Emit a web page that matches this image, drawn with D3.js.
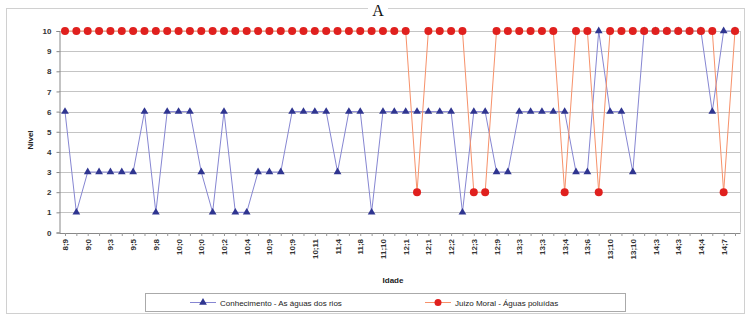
<!DOCTYPE html>
<html><head><meta charset="utf-8">
<script src="https://cdn.jsdelivr.net/npm/d3@7/dist/d3.min.js"></script>
<style>
html,body{margin:0;padding:0;background:#fff;}
svg{display:block;font-family:"Liberation Sans",Arial,sans-serif;}
</style></head>
<body><svg id="c" width="747" height="315"></svg>
<script>
// ---- data ----
const tickLabels = ["8;9","9;0","9;3","9;5","9;8","10;0","10;0","10;2","10;4","10;9","10;9","10;11","11;4","11;8","11;10","12;1","12;1","12;2","12;3","12;9","13;3","13;3","13;4","13;6","13;10","13;10","14;3","14;3","14;4","14;7"];
const conhecimento = [6,1,3,3,3,3,3,6,1,6,6,6,3,1,6,1,1,3,3,3,6,6,6,6,3,6,6,1,6,6,6,6,6,6,6,1,6,6,3,3,6,6,6,6,6,3,3,10,6,6,3,10,10,10,10,10,10,6,10,10];
const juizoMoral = [10,10,10,10,10,10,10,10,10,10,10,10,10,10,10,10,10,10,10,10,10,10,10,10,10,10,10,10,10,10,10,2,10,10,10,10,2,2,10,10,10,10,10,10,2,10,10,2,10,10,10,10,10,10,10,10,10,10,2,10];
const seriesNames = ["Conhecimento - As águas dos rios","Juizo Moral - Águas poluídas"];
const yTicks = [0,1,2,3,4,5,6,7,8,9,10];

const svg = d3.select("#c");
const idx = d3.range(conhecimento.length);
const x = d3.scalePoint().domain(idx).range([65, 735]);
const y = d3.scaleLinear().domain([0,10]).range([232.5, 31]);

// outer border
svg.append("rect").attr("x",6.5).attr("y",8.5).attr("width",738).attr("height",305)
  .attr("fill","none").attr("stroke","#d0d0d0");

// title (white patch hides the border behind it)
svg.append("rect").attr("x",368).attr("y",4).attr("width",20).attr("height",10).attr("fill","#fff");
svg.append("text").attr("x",378).attr("y",16).attr("text-anchor","middle")
  .attr("font-family","'Liberation Serif',Times,serif").attr("font-size",16).attr("fill","#111").text("A");

// gridlines
svg.append("g").selectAll("line").data(yTicks.filter(d=>d>0)).join("line")
  .attr("x1",59).attr("x2",740).attr("y1",d=>Math.round(y(d))+0.5).attr("y2",d=>Math.round(y(d))+0.5)
  .attr("stroke","#c4c4c4").attr("stroke-width",1.2);
// right border of plot
svg.append("line").attr("x1",740.5).attr("x2",740.5).attr("y1",y(10)).attr("y2",y(0)).attr("stroke","#c8c8c8");

// y axis
const yAxis = svg.append("g").attr("transform","translate(59.5,0)")
  .call(d3.axisLeft(y).tickValues(yTicks).tickSize(3).tickFormat(d3.format("d")));
yAxis.select(".domain").attr("stroke","#888");
yAxis.selectAll(".tick line").attr("stroke","#888");
yAxis.selectAll("text").attr("font-size",8).attr("font-weight","bold").attr("fill","#333").attr("dx",-2);

// x axis: ticks at every category, labels every other one
const xAxis = svg.append("g").attr("transform","translate(0,233)")
  .call(d3.axisBottom(x).tickValues(idx).tickSize(3).tickFormat(d => d%2===0 ? tickLabels[d/2] : ""));
xAxis.select(".domain").attr("stroke","#888").attr("d","M59.5,0.5H740.5");
xAxis.selectAll(".tick line").attr("stroke","#999");
xAxis.selectAll("text").attr("font-size",8).attr("font-weight","bold").attr("fill","#333")
  .attr("transform","rotate(-90)").attr("text-anchor","end").attr("x",-6).attr("y",0).attr("dy","0.32em");

// axis titles
svg.append("text").attr("transform","translate(33,140) rotate(-90)").attr("text-anchor","middle")
  .attr("font-size",8).attr("font-weight","bold").attr("fill","#222").text("Nível");
svg.append("text").attr("x",393).attr("y",283).attr("text-anchor","middle")
  .attr("font-size",8).attr("font-weight","bold").attr("fill","#222").text("Idade");

const line = d3.line().x((d,i)=>x(i)).y(d=>y(d));
const tri = d3.symbol().type(d3.symbolTriangle).size(26);

// blue series
svg.append("path").datum(conhecimento).attr("d",line).attr("fill","none")
  .attr("stroke","#8686d2").attr("stroke-width",1);
svg.append("g").selectAll("path").data(conhecimento).join("path")
  .attr("d",tri).attr("transform",(d,i)=>`translate(${x(i)},${y(d)})`).attr("fill","#2f3590");

// red series
svg.append("path").datum(juizoMoral).attr("d",line).attr("fill","none")
  .attr("stroke","#f7916a").attr("stroke-width",1);
svg.append("g").selectAll("circle").data(juizoMoral).join("circle")
  .attr("cx",(d,i)=>x(i)).attr("cy",d=>y(d)).attr("r",4).attr("fill","#e0201e");

// legend
svg.append("rect").attr("x",145.5).attr("y",293.5).attr("width",480).attr("height",18)
  .attr("fill","#fff").attr("stroke","#aaa");
const lg = [{x:190, c:"#8686d2", m:"#2f3590", t:"tri"}, {x:425, c:"#f7916a", m:"#e0201e", t:"circ"}];
lg.forEach((g,k)=>{
  svg.append("line").attr("x1",g.x).attr("x2",g.x+26).attr("y1",302.5).attr("y2",302.5).attr("stroke",g.c);
  if(g.t==="tri") svg.append("path").attr("d",tri).attr("transform",`translate(${g.x+13},302.5)`).attr("fill",g.m);
  else svg.append("circle").attr("cx",g.x+13).attr("cy",302.5).attr("r",3.5).attr("fill",g.m);
  svg.append("text").attr("x",g.x+30).attr("y",305.5).attr("font-size",8).attr("fill","#222").text(seriesNames[k]);
});
</script></body></html>
